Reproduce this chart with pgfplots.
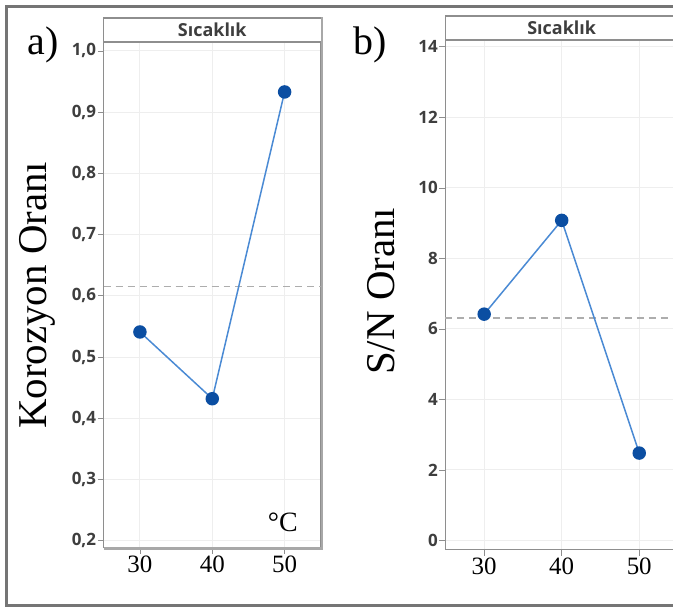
\documentclass[border=0pt]{standalone}
\usepackage{fontspec}
\setmainfont{Liberation Serif}
\newfontfamily\tickfont{Open Sans}
\usepackage{pgfplots}
\pgfplotsset{compat=1.18}

\definecolor{framegray}{HTML}{757575}
\definecolor{boxgray}{HTML}{8E8E8E}
\definecolor{edgegray}{HTML}{A8A8A8}
\definecolor{gridgray}{HTML}{EEEEEE}
\definecolor{linkblue}{HTML}{4A8AD4}
\definecolor{dotblue}{HTML}{0B4EA2}
\definecolor{meangray}{HTML}{ADADAD}
\definecolor{ticktext}{HTML}{3E3E3E}

\pgfplotsset{
  effects/.style={
    scale only axis,
    clip=false,
    xmin=25,
    xtick={30,40,50}, xticklabels={30,40,50},
    grid=major,
    major grid style={gridgray, line width=1pt},
    axis line style={-, boxgray, line width=1.2pt},
    tick style={boxgray, line width=0.8pt},
    major tick length=6pt,
    tick align=outside,
    xtick pos=bottom, ytick pos=left,
    xticklabel style={font=\fontsize{25}{25}\selectfont, text=black, inner sep=2pt},
    yticklabel style={font=\tickfont\bfseries\fontsize{17}{17}\selectfont, text=ticktext, inner sep=1.5pt},
  },
  link/.style={linkblue, line width=1.5pt, mark=*, mark size=6pt,
    mark options={draw=dotblue, fill=dotblue}},
  overall/.style={meangray, line width=1.5pt, dash pattern=on 7pt off 5pt},
}

\begin{document}
\begin{tikzpicture}[x=1pt, y=1pt]
\fill[white] (0pt,0pt) rectangle (674pt,610pt);

% panel a: corrosion rate against temperature
\begin{axis}[effects,
  xshift=104pt, yshift=61pt,
  width=217.5pt, height=507pt, xmax=55,
  ymin=0.1886, ymax=1.0147,
  ytick={0.2,0.3,0.4,0.5,0.6,0.7,0.8,0.9,1.0},
  yticklabels={{0,2},{0,3},{0,4},{0,5},{0,6},{0,7},{0,8},{0,9},{1,0}},
]
\addplot[overall] coordinates {(25,0.615) (55,0.615)};
\addplot[link] coordinates {(30,0.541) (40,0.432) (50,0.933)};
\end{axis}

% panel b: signal-to-noise ratio against temperature (runs to the page edge)
\begin{axis}[effects,
  xshift=446.4pt, yshift=59pt,
  width=227.6pt, height=511pt, xmax=54.29,
  axis x line*=bottom, axis y line*=left,
  ymin=-0.263, ymax=14.198,
  ytick={0,2,4,6,8,10,12,14},
  yticklabels={0,2,4,6,8,10,12,14},
]
\addplot[overall] coordinates {(25,6.31) (54.29,6.31)};
\addplot[link] coordinates {(30,6.42) (40,9.08) (50,2.48)};
\end{axis}

% factor strips above the plots
\draw[boxgray, line width=1.2pt] (104pt,568pt) -- (104pt,592pt) -- (322pt,592pt);
\draw[boxgray, line width=1.2pt] (446.4pt,570pt) -- (674pt,570pt);
\draw[boxgray, line width=1.2pt] (446.4pt,570pt) -- (446.4pt,594pt) -- (674pt,594pt);
\node[anchor=base, font=\tickfont\bfseries\fontsize{18}{18}\selectfont, text=ticktext]
  at (212.75pt,573pt) {Sıcaklık};
\node[anchor=base, font=\tickfont\bfseries\fontsize{18}{18}\selectfont, text=ticktext]
  at (562.9pt,575pt) {Sıcaklık};

% heavier edges of panel a
\draw[edgegray, line width=2.5pt] (104pt,60.5pt) -- (322.5pt,60.5pt) -- (322.5pt,593pt);

% labels
\node[anchor=base west, font=\fontsize{40}{40}\selectfont] at (24pt,555pt) {a)};
\node[anchor=base west, font=\fontsize{40}{40}\selectfont] at (351pt,555pt) {b)};
\node[rotate=90, anchor=base, font=\fontsize{41}{41}\selectfont] at (47pt,314pt) {Korozyon Oranı};
\node[rotate=90, anchor=base, font=\fontsize{41}{41}\selectfont] at (395pt,318pt) {S/N Oranı};
\node[anchor=base east, font=\fontsize{28}{28}\selectfont] at (302pt,77pt) {°C};

% outer frame
\draw[framegray, line width=3pt] (674pt,603.5pt) -- (6.5pt,603.5pt) -- (6.5pt,3pt) -- (674pt,3pt);
\end{tikzpicture}
\end{document}
